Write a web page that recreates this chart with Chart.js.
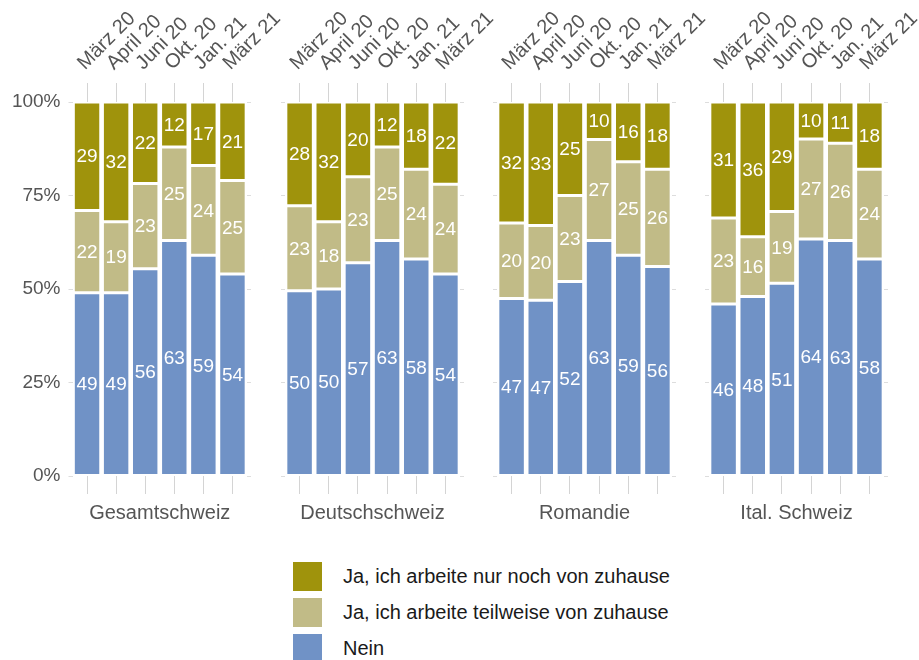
<!DOCTYPE html>
<html>
<head>
<meta charset="utf-8">
<script src="https://cdn.jsdelivr.net/npm/chart.js@4"></script>
<style>
  body { margin: 0; background: #fff; }
  #wrap { position: relative; width: 919px; height: 660px; overflow: hidden; font-family: "Liberation Sans", Arial, sans-serif; }
  #wrap canvas { position: absolute; top: 0; }
  .leg { position: absolute; left: 293px; height: 29px; line-height: 29px; font-size: 20px; color: #1a1a1a; white-space: nowrap; }
  .leg span { position: absolute; left: 0; top: 0; width: 29px; height: 29px; }
  .leg b { position: absolute; left: 50px; top: 0; font-weight: normal; }
</style>
</head>
<body>
<div id="wrap">
  <canvas id="c0"></canvas>
  <canvas id="c1"></canvas>
  <canvas id="c2"></canvas>
  <canvas id="c3"></canvas>
  <div id="legende"></div>
</div>
<script>
const qS = (el)=>document.querySelector(el);

const monate = ['März 20', 'April 20', 'Juni 20', 'Okt. 20', 'Jan. 21', 'März 21'];
const regionen = ['Gesamtschweiz', 'Deutschschweiz', 'Romandie', 'Ital. Schweiz'];
const serien = ['Nein', 'Ja, ich arbeite teilweise von zuhause', 'Ja, ich arbeite nur noch von zuhause'];
const farben = ['#7092c6', '#c1bb87', '#9f930c'];

// je Region: Werte pro Monat
const nein = [
  [49, 49, 56, 63, 59, 54],
  [50, 50, 57, 63, 58, 54],
  [47, 47, 52, 63, 59, 56],
  [46, 48, 51, 64, 63, 58]
];
const teilweise = [
  [22, 19, 23, 25, 24, 25],
  [23, 18, 23, 25, 24, 24],
  [20, 20, 23, 27, 25, 26],
  [23, 16, 19, 27, 26, 24]
];
const nurZuhause = [
  [29, 32, 22, 12, 17, 21],
  [28, 32, 20, 12, 18, 22],
  [32, 33, 25, 10, 16, 18],
  [31, 36, 29, 10, 11, 18]
];

Chart.defaults.font.family = '"Liberation Sans", Arial, sans-serif';
Chart.defaults.font.size = 20;
Chart.defaults.color = '#555';

const rotulos = {
  id: 'rotulos',
  afterDatasetsDraw(chart) {
    let ctx = chart.ctx
    ctx.save()
    ctx.fillStyle = '#fff'
    ctx.font = '19px "Liberation Sans", Arial, sans-serif'
    ctx.textAlign = 'center'
    ctx.textBaseline = 'middle'
    chart.data.datasets.forEach((ds, d) => {
      chart.getDatasetMeta(d).data.forEach((bar, k) => {
        let p = bar.getCenterPoint()
        ctx.fillText(ds.roh[k], p.x, p.y + 1)
      })
    })
    ctx.restore()
  }
}

function baueChart(i) {
  let links = i == 0 ? 72.5 : 20
  let canvas = qS('#c' + i)
  canvas.width = links + 175 + 50
  canvas.height = 530
  canvas.style.left = (72.5 + 212 * i - links) + 'px'

  let werte = [nein[i], teilweise[i], nurZuhause[i]]
  let summe = monate.map((m, k) => werte.reduce((a, w) => a + w[k], 0))
  let tickGrid = { drawOnChartArea: false, drawTicks: true, color: '#d4d4d4', offset: false }

  new Chart(canvas, {
    type: 'bar',
    data: {
      labels: monate,
      datasets: werte.map((w, s) => ({
        label: serien[s],
        data: w.map((v, k) => v / summe[k] * 100),
        roh: w,
        backgroundColor: farben[s],
        borderColor: '#fff',
        borderWidth: 1.5,
        borderSkipped: false,
        barPercentage: 0.943,
        categoryPercentage: 1
      }))
    },
    options: {
      responsive: false,
      animation: false,
      layout: { padding: { right: 46 } },
      plugins: { legend: { display: false }, tooltip: { enabled: false } },
      scales: {
        x: {
          position: 'top',
          stacked: true,
          offset: true,
          grid: { ...tickGrid, tickLength: 19 },
          border: { display: false },
          ticks: { minRotation: 45, maxRotation: 45, autoSkip: false, padding: 8, labelOffset: 11 },
          afterFit: s => { s.height = 102 }
        },
        xb: {
          type: 'category',
          labels: monate,
          position: 'bottom',
          offset: true,
          grid: { ...tickGrid, tickLength: 18 },
          border: { display: false },
          ticks: { display: false },
          title: { display: true, text: regionen[i], padding: { top: 0, bottom: 5 } },
          afterFit: s => { s.height = 54 }
        },
        y: {
          stacked: true,
          min: 0,
          max: 100,
          grid: { drawOnChartArea: false, tickLength: 4, color: '#ddd' },
          border: { display: false },
          ticks: { stepSize: 25, display: i == 0, padding: 8, font: { size: 19 }, callback: v => v + '%' },
          afterFit: s => { s.width = links }
        },
        yr: {
          position: 'right',
          min: 0,
          max: 100,
          grid: { drawOnChartArea: false, tickLength: 4, color: '#ddd' },
          border: { display: false },
          ticks: { stepSize: 25, display: false },
          afterFit: s => { s.width = 4 }
        }
      }
    },
    plugins: [rotulos]
  })
}

regionen.forEach((r, i) => baueChart(i))

let legende = qS('#legende')
;[2, 1, 0].forEach((s, n) => {
  let el = document.createElement('div')
  el.className = 'leg'
  el.style.top = (562 + 36 * n) + 'px'
  el.innerHTML = '<span style="background:' + farben[s] + '"></span><b>' + serien[s] + '</b>'
  legende.appendChild(el)
})
</script>
</body>
</html>
